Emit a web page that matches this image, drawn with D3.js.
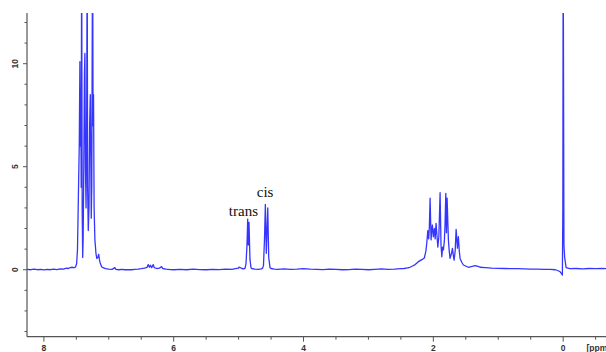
<!DOCTYPE html>
<html>
<head>
<meta charset="utf-8">
<script src="https://cdn.jsdelivr.net/npm/d3@7"></script>
<style>
  body { margin: 0; background: #fff; }
  svg { display: block; }
  .tick-label { font-family: "Liberation Sans", Arial, sans-serif; font-size: 8.5px; font-weight: bold; fill: #333; }
  .note { font-family: "Liberation Serif", "Times New Roman", serif; font-size: 15px; fill: #111; }
</style>
</head>
<body>
<svg id="chart" width="606" height="352"></svg>
<script>
// spectrum trace, [ppm, intensity]
var spectrum = [
  [8.26, 0.02], [8.2, 0.0], [8.15, 0.03], [8.1, 0.0], [8.05, 0.02], [8.0, -0.01],
  [7.95, 0.02], [7.9, 0.0], [7.85, 0.03], [7.8, 0.01], [7.75, 0.04], [7.7, 0.03],
  [7.65, 0.08], [7.62, 0.06], [7.6, 0.1], [7.56, 0.12], [7.53, 0.1], [7.51, 0.15],
  // aromatic multiplet
  [7.495, 0.3], [7.482, 1.0], [7.474, 2.5], [7.465, 4.2], [7.455, 6.0], [7.445, 10.1],
  [7.438, 6.0], [7.432, 8.5], [7.425, 4.0], [7.418, 16], [7.41, 3.0], [7.402, 0.6],
  [7.395, 1.5], [7.385, 5.0], [7.375, 9.5], [7.368, 10.5], [7.36, 5.0], [7.35, 3.0],
  [7.34, 8.0], [7.333, 16], [7.326, 4.0], [7.316, 1.9], [7.305, 3.0], [7.295, 7.0],
  [7.285, 8.5], [7.276, 5.0], [7.27, 2.5], [7.262, 4.0], [7.255, 11.4], [7.249, 16],
  [7.242, 7.0], [7.235, 8.5], [7.226, 3.0], [7.214, 1.45], [7.205, 1.1], [7.198, 0.8],
  [7.185, 0.55], [7.168, 0.6], [7.155, 0.75], [7.145, 0.5], [7.13, 0.3], [7.11, 0.15],
  [7.09, 0.1], [7.05, 0.05],
  [7.0, 0.03], [6.95, 0.02], [6.906, 0.1], [6.89, 0.02], [6.85, 0.0], [6.8, 0.02],
  [6.75, 0.0], [6.7, 0.01], [6.65, 0.0], [6.6, 0.02], [6.55, 0.03], [6.5, 0.05],
  [6.45, 0.08], [6.41, 0.12], [6.392, 0.25], [6.375, 0.12], [6.358, 0.22], [6.34, 0.1],
  [6.315, 0.25], [6.3, 0.1], [6.26, 0.06], [6.22, 0.08], [6.186, 0.15], [6.17, 0.06],
  [6.12, 0.03], [6.05, 0.01], [6.0, 0.0], [5.9, 0.02], [5.8, 0.0], [5.7, 0.03],
  [5.6, 0.01], [5.5, 0.0], [5.4, 0.02], [5.3, 0.01], [5.2, 0.03], [5.1, 0.02],
  [5.05, 0.05], [5.0, 0.08], [4.994, 0.13], [4.975, 0.1], [4.95, 0.06], [4.92, 0.04],
  [4.9, 0.08],
  // trans
  [4.886, 0.3], [4.871, 1.2], [4.86, 2.45], [4.851, 1.2], [4.84, 2.3], [4.825, 0.5],
  [4.809, 0.1], [4.8, 0.06], [4.75, 0.03], [4.7, 0.02], [4.65, 0.04], [4.63, 0.08],
  // cis
  [4.617, 0.2], [4.601, 1.5], [4.588, 3.17], [4.573, 0.8], [4.551, 3.0], [4.536, 0.6],
  [4.516, 0.1], [4.5, 0.06], [4.45, 0.03],
  [4.4, 0.02], [4.3, 0.04], [4.2, 0.02], [4.1, 0.03], [4.0, 0.05], [3.9, 0.03],
  [3.8, 0.02], [3.7, 0.01], [3.6, 0.03], [3.5, 0.02], [3.4, 0.0], [3.3, 0.01],
  [3.2, 0.03], [3.1, 0.02], [3.0, 0.0], [2.9, 0.02], [2.8, 0.04], [2.7, 0.02],
  [2.6, 0.03], [2.5, 0.05], [2.45, 0.06], [2.4, 0.09], [2.36, 0.12], [2.32, 0.18],
  [2.28, 0.25], [2.235, 0.38], [2.205, 0.44], [2.17, 0.5], [2.139, 0.57],
  // aliphatic multiplets
  [2.115, 0.9], [2.101, 1.3], [2.085, 1.9], [2.072, 1.5], [2.062, 2.0], [2.05, 3.47],
  [2.035, 1.45], [2.025, 1.9], [2.015, 2.17], [2.0, 1.6], [1.984, 2.0], [1.972, 1.5],
  [1.958, 2.25], [1.945, 1.7], [1.931, 1.1], [1.915, 1.6], [1.896, 3.74], [1.882, 1.2],
  [1.869, 0.63], [1.858, 1.1], [1.845, 0.95], [1.83, 1.4], [1.82, 2.2], [1.808, 3.7],
  [1.798, 1.8], [1.788, 3.47], [1.768, 1.45], [1.755, 0.9], [1.742, 0.55], [1.72, 0.8],
  [1.706, 1.04], [1.692, 0.7], [1.68, 0.47], [1.664, 0.9], [1.649, 1.96], [1.629, 1.05],
  [1.614, 1.6], [1.6, 0.9], [1.588, 0.55], [1.56, 0.35], [1.537, 0.23], [1.46, 0.12],
  [1.356, 0.2],
  [1.3, 0.15], [1.28, 0.12], [1.2, 0.1], [1.1, 0.08], [1.0, 0.07], [0.9, 0.06],
  [0.8, 0.05], [0.7, 0.05], [0.6, 0.04], [0.5, 0.03], [0.4, 0.03], [0.3, 0.02],
  [0.2, 0.02], [0.12, 0.0], [0.077, -0.05], [0.046, -0.1], [0.023, -0.2], [0.012, -0.26],
  // TMS
  [0.005, 3.0], [0.0, 16], [-0.005, 10.4], [-0.012, 1.2], [-0.023, 0.6], [-0.046, 0.1],
  [-0.1, 0.05], [-0.2, 0.06], [-0.3, 0.04], [-0.4, 0.06], [-0.5, 0.05], [-0.6, 0.06],
  [-0.66, 0.05]
];

var xLabels = [8, 6, 4, 2, 0];
var yLabels = [0, 5, 10];
var notes = [
  { text: 'trans', ppm: 5.15, value: 2.6 },
  { text: 'cis', ppm: 4.72, value: 3.54 }
];

var svg = d3.select('#chart');
var plotLeft = 27, plotRight = 606, plotTop = 13, plotBottom = 336.7;

var x = d3.scaleLinear().domain([8.26, -0.66]).range([plotLeft, plotRight]);
var y = d3.scaleLinear().domain([-3.25, 12.46]).range([plotBottom, plotTop]);

svg.append('clipPath').attr('id', 'plot')
  .append('rect').attr('x', plotLeft).attr('y', plotTop)
  .attr('width', plotRight - plotLeft).attr('height', plotBottom - plotTop);

// axes
var axisColor = '#555';

var xMinor = d3.range(8, -0.6, -0.5);
svg.append('g').selectAll('line').data(xMinor).enter().append('line')
  .attr('x1', d => x(d)).attr('x2', d => x(d))
  .attr('y1', plotBottom).attr('y2', d => xLabels.indexOf(d) >= 0 ? plotBottom + 5 : plotBottom + 3)
  .attr('stroke', axisColor).attr('stroke-width', 1);

svg.append('g').selectAll('text').data(xLabels).enter().append('text')
  .attr('class', 'tick-label')
  .attr('x', d => x(d)).attr('y', 350.5)
  .attr('text-anchor', 'middle')
  .text(d => d);

svg.append('text').attr('class', 'tick-label')
  .attr('x', 586.5).attr('y', 350.5).text('[ppm]');

var yMinor = d3.range(-3, 13, 1);
svg.append('g').selectAll('line').data(yMinor).enter().append('line')
  .attr('y1', d => y(d)).attr('y2', d => y(d))
  .attr('x1', plotLeft).attr('x2', d => yLabels.indexOf(d) >= 0 ? plotLeft - 4 : plotLeft - 2.5)
  .attr('stroke', axisColor).attr('stroke-width', 1);

svg.append('g').selectAll('text').data(yLabels).enter().append('text')
  .attr('class', 'tick-label')
  .attr('transform', d => 'translate(18,' + y(d) + ') rotate(-90)')
  .attr('text-anchor', 'middle')
  .text(d => d);

svg.append('line').attr('x1', plotLeft).attr('x2', plotRight).attr('y1', plotBottom).attr('y2', plotBottom)
  .attr('stroke', axisColor).attr('stroke-width', 1.2);
svg.append('line').attr('x1', plotLeft).attr('x2', plotLeft).attr('y1', plotTop).attr('y2', plotBottom)
  .attr('stroke', axisColor).attr('stroke-width', 1.2);

// spectrum
var line = d3.line()
  .x(d => x(d[0]))
  .y(d => y(d[1]));

svg.append('path')
  .datum(spectrum)
  .attr('clip-path', 'url(#plot)')
  .attr('fill', 'none')
  .attr('stroke', '#3535ff')
  .attr('stroke-width', 1.3)
  .attr('stroke-linejoin', 'round')
  .attr('d', line);

// peak labels
svg.append('g').selectAll('text').data(notes).enter().append('text')
  .attr('class', 'note')
  .attr('x', d => x(d.ppm)).attr('y', d => y(d.value))
  .text(d => d.text);
</script>
</body>
</html>
